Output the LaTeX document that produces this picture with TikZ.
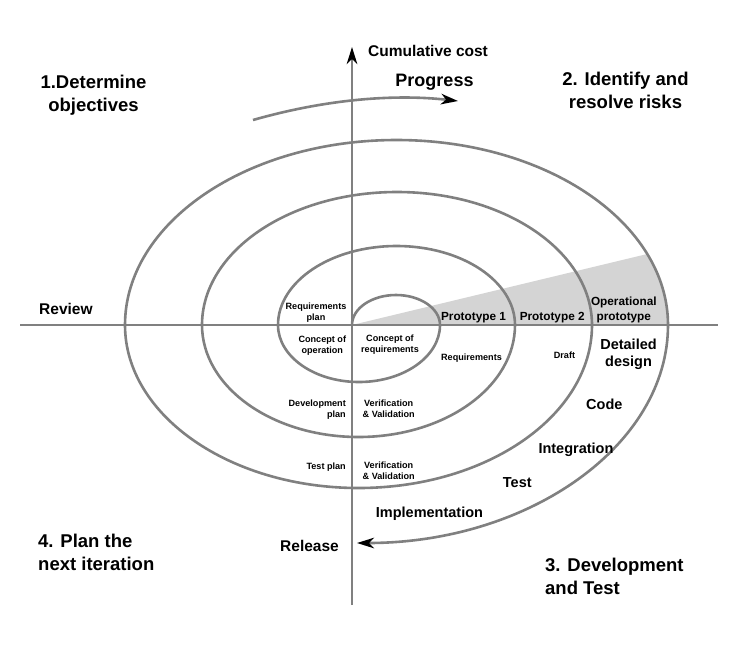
\documentclass[tikz,border=0pt]{standalone}
\usepackage{fontspec}
\setmainfont{Liberation Sans}
\usetikzlibrary{arrows.meta}
\definecolor{linegray}{RGB}{128,128,128}
\definecolor{wedgegray}{RGB}{212,212,212}
\begin{document}
\begin{tikzpicture}[x=1pt,y=-1pt,
  axisline/.style={draw=linegray, line width=2.6pt},
  headtip/.style={-{Stealth[length=17pt,width=10.5pt,inset=5pt,color=black]}},
  lbl/.style={inner sep=0pt, text=black},
  bigtxt/.style={lbl, font=\fontsize{18.5}{23}\selectfont\bfseries},
  axtxt/.style={lbl, font=\fontsize{15.5}{18}\selectfont\bfseries},
  progtxt/.style={lbl, font=\fontsize{18}{21}\selectfont\bfseries},
  phasetxt/.style={lbl, font=\fontsize{14.5}{17}\selectfont\bfseries},
  prototxt/.style={lbl, font=\fontsize{11.8}{14.7}\selectfont\bfseries},
  smalltxt/.style={lbl, font=\fontsize{9.1}{10.8}\selectfont\bfseries}]
\useasboundingbox (0,0) rectangle (736,649);
\fill[white] (0,0) rectangle (736,649);

% grey wedge
\begin{scope}
  \clip (396.5,325) ellipse [x radius=271.5, y radius=185];
  \fill[wedgegray] (352,325) -- (720,236.5) -- (720,325) -- cycle;
\end{scope}

% axes
\coordinate (hL) at (20,325);
\coordinate (hR) at (718,325);
\coordinate (vB) at (352,605);
\coordinate (vT) at (352,47);
\draw[axisline] (hL) -- (hR);
\draw[axisline, headtip] (vB) -- (vT);

% spiral
\coordinate (sp0) at (352,325);
\draw[axisline, headtip] (sp0)
  arc[start angle=180,end angle=360,x radius=44,y radius=30]
  arc[start angle=0,end angle=180,x radius=81,y radius=57]
  arc[start angle=180,end angle=360,x radius=118.5,y radius=79]
  arc[start angle=0,end angle=180,x radius=156.5,y radius=112]
  arc[start angle=180,end angle=360,x radius=195,y radius=133]
  arc[start angle=0,end angle=180,x radius=233.5,y radius=163]
  arc[start angle=180,end angle=360,x radius=271.5,y radius=185]
  arc[start angle=0,end angle=90,x radius=311,y radius=218];

% progress arrow
\coordinate (pS) at (253,120);
\coordinate (pE) at (458,101);
\draw[axisline, headtip] (pS) .. controls (323.5,99.9) and (391.8,93.6) .. (pE);

% quadrant titles
\node[bigtxt, align=center, anchor=north] (q1) at (93.5,75) {1.Determine\\objectives};
\node[bigtxt, align=center, anchor=north] (q2) at (625.5,72.2) {2. Identify and\\resolve risks};
\node[bigtxt, align=left, anchor=north west] (q4) at (38,533.8) {4. Plan the\\next iteration};
\node[bigtxt, align=left, anchor=north west] (q3) at (545,557.5) {3. Development\\and Test};

% axis labels
\node[axtxt, anchor=base west] (cost) at (368,56) {Cumulative cost};
\node[progtxt, anchor=base] (prog) at (434.5,86) {Progress};
\node[axtxt, anchor=base west] (review) at (39,314) {Review};
\node[axtxt, anchor=base west] (release) at (280,551.5) {Release};

% phases
\node[phasetxt, anchor=base west] (impl) at (375.7,517.3) {Implementation};
\node[phasetxt, anchor=base west] (code) at (586,409) {Code};
\node[phasetxt, anchor=base west] (integ) at (538.3,453.3) {Integration};
\node[phasetxt, anchor=base west] (test) at (502.7,487.7) {Test};
\node[phasetxt, align=center, anchor=north] (detail) at (628.5,338.3) {Detailed\\design};

% prototypes
\node[prototxt, anchor=base] (proto1) at (473.5,320.7) {Prototype 1};
\node[prototxt, anchor=base] (proto2) at (552.2,320.7) {Prototype 2};
\node[prototxt, align=center, anchor=north] (oproto) at (623.8,296.7) {Operational\\prototype};

% small labels
\node[smalltxt, align=center, anchor=north] (reqplan) at (316,302.4) {Requirements\\plan};
\node[smalltxt, align=center, anchor=north] (conop) at (322.3,335.4) {Concept of\\operation};
\node[smalltxt, align=center, anchor=north] (conreq) at (390,335) {Concept of\\requirements};
\node[smalltxt, anchor=base] (req) at (471.5,360.7) {Requirements};
\node[smalltxt, anchor=base] (draft) at (564.5,358.3) {Draft};
\node[smalltxt, align=right, anchor=north east] (devplan) at (346,400) {Development\\plan};
\node[smalltxt, align=center, anchor=north] (vv1) at (388.7,400) {Verification\\\& Validation};
\node[smalltxt, anchor=base east] (testplan) at (346,469.3) {Test plan};
\node[smalltxt, align=center, anchor=north] (vv2) at (388.7,461.7) {Verification\\\& Validation};
\end{tikzpicture}
\end{document}
